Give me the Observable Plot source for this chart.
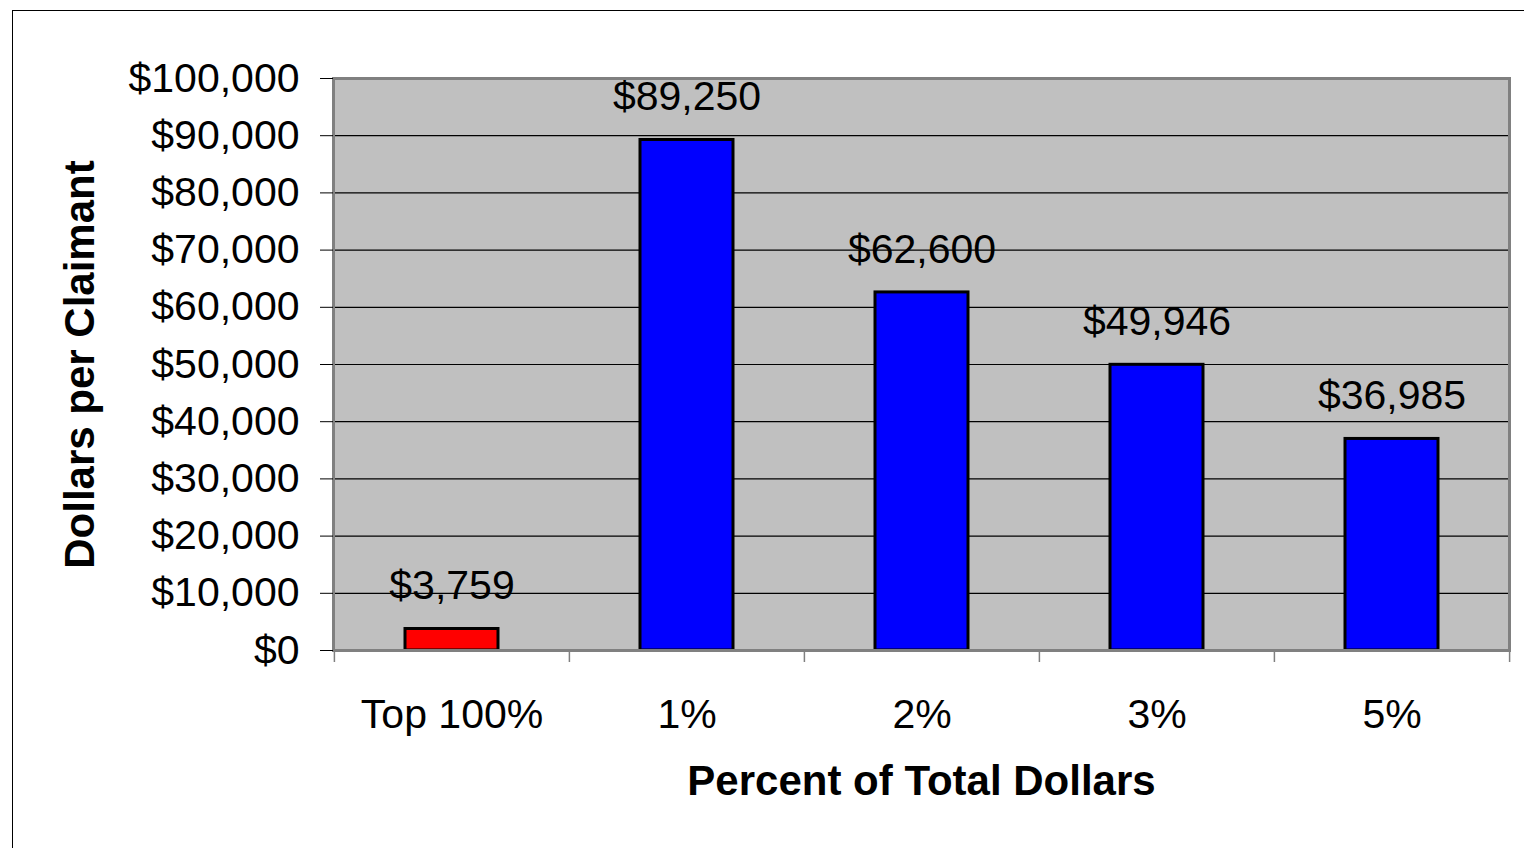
<!DOCTYPE html>
<html>
<head>
<meta charset="utf-8">
<script src="https://cdn.jsdelivr.net/npm/d3@7"></script>
<script src="https://cdn.jsdelivr.net/npm/@observablehq/plot@0.6"></script>
<style>
  html, body { margin: 0; padding: 0; background: #fff; overflow: hidden; }
  #frame { position: absolute; left: 12px; top: 10px; width: 1700px; height: 1000px; border-left: 1.5px solid #000; border-top: 1.5px solid #000; pointer-events: none; }
  #chart { position: absolute; left: 0; top: 0; }
  g[aria-label="y-axis label"] text, g[aria-label="x-axis label"] text { font-weight: bold; font-size: 42px; }
</style>
</head>
<body>
<div id="chart"></div>
<div id="frame"></div>
<script>
const categories = ["Top 100%", "1%", "2%", "3%", "5%"];
const values = [3759, 89250, 62600, 49946, 36985];
const barColors = ["#ff0000", "#0000ff", "#0000ff", "#0000ff", "#0000ff"];
const yTicks = [0, 10000, 20000, 30000, 40000, 50000, 60000, 70000, 80000, 90000, 100000];
const xTitle = "Percent of Total Dollars";
const yTitle = "Dollars per Claimant";

const data = categories.map((c, i) => ({category: c, value: values[i], color: barColors[i]}));

const width = 1524, height = 848;
const marginLeft = 333, marginRight = 15, marginTop = 78, marginBottom = 198;
const step = (width - marginLeft - marginRight) / categories.length;
const money = d3.format("$,");

const chart = Plot.plot({
  width, height, marginLeft, marginRight, marginTop, marginBottom,
  style: {fontFamily: "'Liberation Sans', Arial, sans-serif", fontSize: "41px", color: "#000", background: "transparent"},
  x: {type: "band", domain: categories, padding: 0},
  y: {domain: [0, 100000]},
  marks: [
    Plot.frame({fill: "#c0c0c0"}),
    Plot.gridY(yTicks, {stroke: "#000", strokeOpacity: 1, strokeWidth: 1.2}),
    Plot.barY(data, {x: "category", y: "value", fill: "color", stroke: "#000", strokeWidth: 3, insetLeft: 71, insetRight: 71}),
    Plot.text(data, {x: "category", y: "value", text: d => money(d.value), dy: -43, fill: "#000", fontSize: 41}),
    Plot.frame({stroke: "#808080", strokeWidth: 3}),
    Plot.axisY(yTicks, {tickFormat: money, tickSize: 13, tickPadding: 21, label: yTitle, labelAnchor: "center", labelArrow: "none", labelOffset: 269, fontSize: 41}),
    Plot.axisX({tickSize: 0, tickPadding: 48, label: xTitle, labelAnchor: "center", labelArrow: "none", labelOffset: 144, fontSize: 41}),
    Plot.axisX(categories, {tickSize: 12, tickFormat: () => "", label: null, dx: -step / 2, stroke: "#808080", strokeWidth: 1.5}),
    Plot.axisX(categories.slice(-1), {tickSize: 12, tickFormat: () => "", label: null, dx: step / 2, stroke: "#808080", strokeWidth: 1.5})
  ]
});
document.getElementById("chart").appendChild(chart);
</script>
</body>
</html>
